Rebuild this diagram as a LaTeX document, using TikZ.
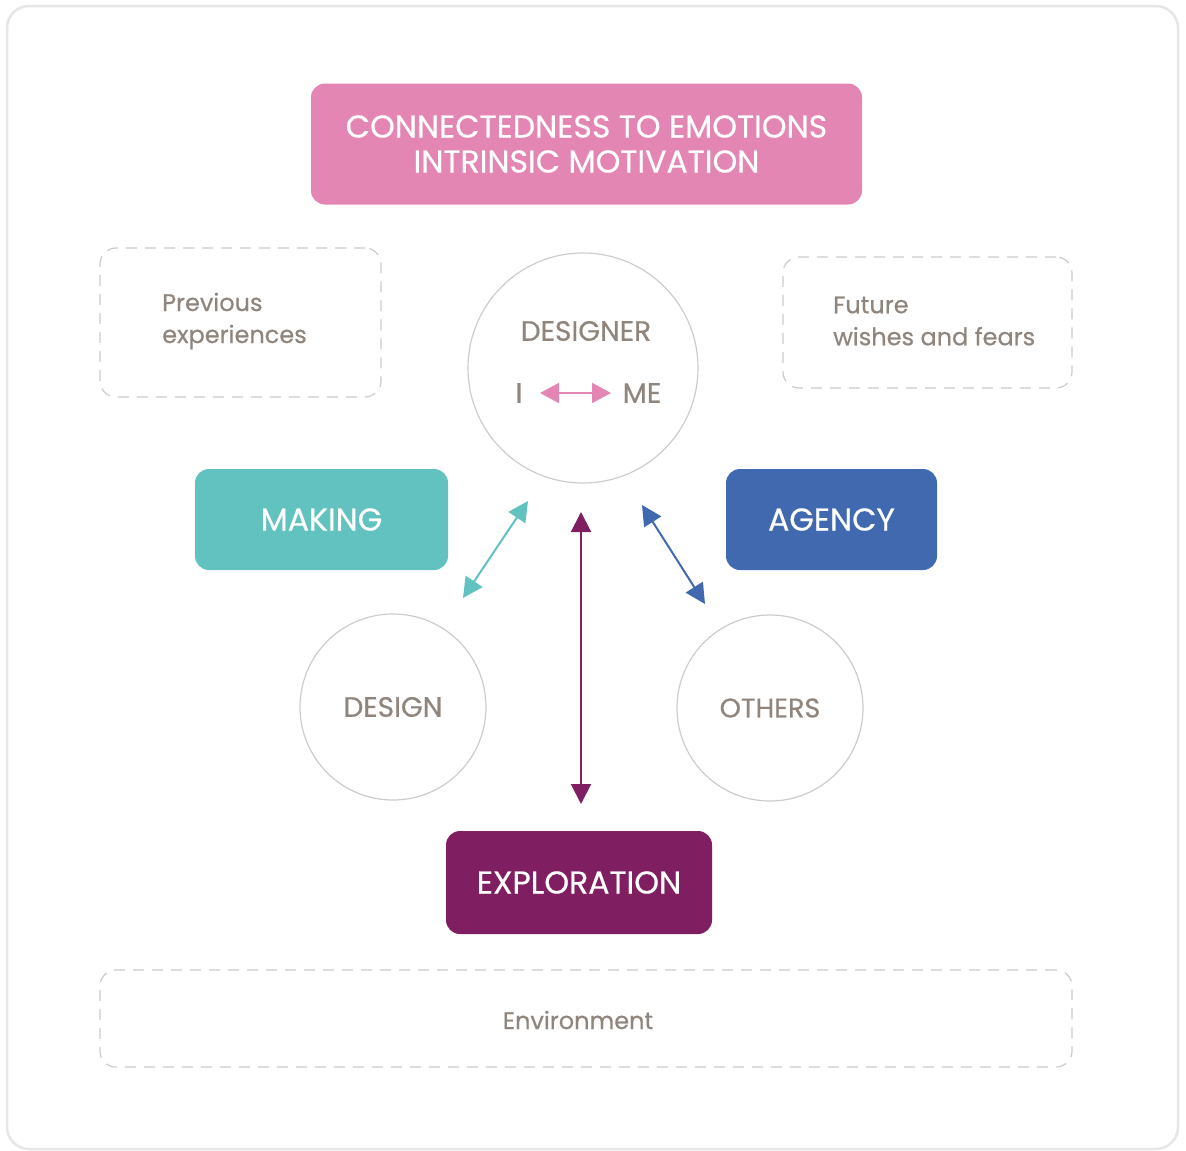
\documentclass[tikz,border=0pt]{standalone}
\usepackage{fontspec}
\setmainfont{Poppins}
\newfontfamily\medfont[FakeBold=0.5]{Poppins}
\usetikzlibrary{arrows.meta}
\definecolor{framegray}{HTML}{E6E6E6}
\definecolor{pinkc}{HTML}{E486B4}
\definecolor{tealc}{HTML}{62C2BF}
\definecolor{bluec}{HTML}{4169B0}
\definecolor{purplec}{HTML}{7F1F62}
\definecolor{txtgray}{HTML}{8F857C}
\definecolor{dashgray}{HTML}{CFCAC5}
\definecolor{circgray}{HTML}{CCCCCC}
\tikzset{
  colbox/.style={rounded corners=14pt, inner sep=0pt, text=white, align=center, font=\medfont\fontsize{31.5}{36}\selectfont},
  dashbox/.style={draw=dashgray, line width=1.2pt, dash pattern=on 11pt off 8pt, rounded corners=16pt, inner sep=0pt},
  bigcirc/.style={circle, draw=circgray, line width=1.2pt, inner sep=0pt, text=txtgray},
  greytext/.style={text=txtgray, font=\medfont\fontsize{24}{32}\selectfont, inner sep=0pt},
  captext/.style={text=txtgray, font=\medfont\fontsize{28}{32}\selectfont, inner sep=0pt},
  dblarrow/.style={line width=2pt, {Triangle[length=20pt,width=20pt]}-{Triangle[length=20pt,width=20pt]}},
}
\begin{document}
\begin{tikzpicture}[x=1pt,y=-1pt]
\useasboundingbox (0,0) rectangle (1186,1151);
\node[draw=framegray, line width=2.5pt, rounded corners=22pt, minimum width=1171pt, minimum height=1143pt, inner sep=0pt] (frame) at (592.5,577.5) {};
% top box
\node[colbox, fill=pinkc, minimum width=551pt, minimum height=121pt, font=\medfont\fontsize{31.5}{35}\selectfont] (top) at (586.5,144) {CONNECTEDNESS TO EMOTIONS\\INTRINSIC MOTIVATION};
% dashed boxes
\node[dashbox, minimum width=281pt, minimum height=149pt] (prev) at (240.5,322.5) {};
\node[greytext, align=left, anchor=west] (prevt) at (162,321) {Previous\\experiences};
\node[dashbox, minimum width=289pt, minimum height=131pt] (fut) at (927.5,322.5) {};
\node[greytext, align=left, anchor=west] (futt) at (833,321) {Future\\wishes and fears};
\node[dashbox, minimum width=972pt, minimum height=97pt] (env) at (586,1018.5) {};
\node[greytext] (envt) at (578,1020) {Environment};
% designer circle
\node[bigcirc, minimum size=230pt] (designer) at (583,368) {};
\node[captext] (dest) at (586,331) {DESIGNER};
\node[captext] (ii) at (519,393) {I};
\node[captext] (me) at (642,393) {ME};
\coordinate (ia) at (540,393);
\coordinate (mea) at (611,393);
\draw[line width=2pt, pinkc, {Triangle[length=19pt,width=20pt]}-{Triangle[length=19pt,width=20pt]}] (ia) -- (mea);
% colored boxes
\node[colbox, fill=tealc, minimum width=253pt, minimum height=101pt] (making) at (321.5,519.5) {MAKING};
\node[colbox, fill=bluec, minimum width=211pt, minimum height=101pt] (agency) at (831.5,519.5) {AGENCY};
\node[colbox, fill=purplec, minimum width=266pt, minimum height=103pt] (explo) at (579,882.5) {EXPLORATION};
% small circles
\node[bigcirc, minimum size=186pt, font=\medfont\fontsize{28}{32}\selectfont] (design) at (393,707) {DESIGN};
\node[bigcirc, minimum size=186pt, font=\medfont\fontsize{27}{32}\selectfont] (others) at (770,708) {OTHERS};
% arrows
\coordinate (t1) at (463,598);
\coordinate (t2) at (528,501);
\coordinate (p1) at (581,512);
\coordinate (p2) at (581,804);
\coordinate (b1) at (642,505);
\coordinate (b2) at (705,604);
\draw[dblarrow, tealc] (t1) -- (t2);
\draw[dblarrow, purplec] (p1) -- (p2);
\draw[dblarrow, bluec] (b1) -- (b2);
\end{tikzpicture}
\end{document}
